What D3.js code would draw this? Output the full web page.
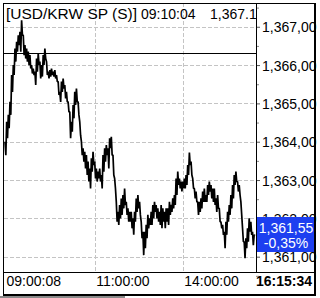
<!DOCTYPE html>
<html>
<head>
<meta charset="utf-8">
<script src="https://cdn.jsdelivr.net/npm/d3@7"></script>
<style>
  body { margin: 0; background: #fff; }
  text { font-family: "Liberation Sans", Arial, sans-serif; }
</style>
</head>
<body>
<svg width="320" height="298"></svg>
<script>
// USD/KRW spot, intraday ticks (top/bottom of each swing)
const prices = [
  1364.00, 1363.65, 1364.52, 1364.09, 1364.70, 1364.35, 1365.04, 1364.70, 1365.74, 1365.30,
  1366.00, 1365.74, 1366.43, 1366.09, 1366.61, 1366.35, 1366.78, 1366.52, 1366.87, 1366.35,
  1367.17, 1366.78, 1366.78, 1366.26, 1366.52, 1366.17, 1366.43, 1366.09, 1366.35, 1366.00,
  1366.26, 1365.91, 1366.00, 1365.78, 1365.91, 1365.74, 1365.83, 1365.48, 1366.17, 1365.83,
  1366.30, 1366.00, 1366.09, 1365.65, 1366.00, 1365.70, 1366.26, 1366.00, 1366.43, 1366.17,
  1366.09, 1365.74, 1365.83, 1365.65, 1365.87, 1365.70, 1365.91, 1365.74, 1365.83, 1365.70,
  1365.87, 1365.65, 1365.74, 1365.57, 1365.57, 1365.22, 1365.30, 1365.04, 1365.57, 1365.30,
  1365.65, 1365.39, 1365.48, 1365.13, 1365.30, 1365.04, 1365.04, 1364.78, 1364.78, 1364.09,
  1364.52, 1364.26, 1364.96, 1364.61, 1365.30, 1364.96, 1365.39, 1365.04, 1365.04, 1364.70,
  1364.52, 1364.17, 1364.00, 1363.65, 1363.83, 1363.48,
  1363.74, 1363.30, 1363.65, 1363.13, 1363.48, 1362.96, 1363.30, 1362.78, 1363.57, 1363.22,
  1363.74, 1363.39, 1363.48, 1363.04, 1363.30, 1362.96, 1363.22, 1363.04, 1363.30, 1362.96,
  1363.13, 1362.78, 1363.65, 1363.22, 1363.83, 1363.48, 1363.91, 1363.65, 1363.83, 1363.30,
  1364.09, 1363.83, 1364.13, 1363.65, 1363.65, 1363.13, 1363.04, 1362.78, 1362.43, 1361.91,
  1362.17, 1361.83, 1362.35, 1362.00, 1362.52, 1362.09, 1362.61, 1362.26, 1362.78, 1362.35,
  1362.43, 1362.09, 1362.26, 1361.91, 1362.17, 1361.91, 1362.17, 1361.74, 1362.00, 1361.57,
  1362.17, 1361.91, 1362.52, 1362.17, 1362.61, 1362.26, 1362.43, 1362.09, 1361.91, 1361.48,
  1361.65, 1361.04, 1361.65, 1361.22, 1361.83, 1361.48, 1362.09, 1361.74, 1362.00, 1361.83,
  1362.17, 1361.83, 1362.35, 1362.00, 1362.43, 1362.17, 1362.35, 1362.00, 1362.26, 1361.91,
  1362.17, 1361.83, 1362.35, 1361.74, 1362.26, 1361.91, 1362.17, 1361.74, 1362.26, 1361.91,
  1362.26, 1361.83,
  1362.43, 1362.09, 1362.35, 1362.17, 1362.52, 1362.26, 1362.61, 1362.35, 1363.04, 1362.61,
  1363.22, 1362.87, 1363.04, 1362.78, 1362.96, 1362.70, 1362.96, 1362.78, 1363.04, 1362.78,
  1363.13, 1362.87, 1363.39, 1363.13, 1363.72, 1363.39, 1363.48, 1363.13, 1363.04, 1362.78,
  1362.78, 1362.52, 1362.70, 1362.43, 1362.43, 1362.09, 1362.43, 1362.17, 1362.52, 1362.26,
  1362.70, 1362.43, 1362.78, 1362.43, 1362.61, 1362.43, 1362.87, 1362.61, 1362.96, 1362.70,
  1362.87, 1362.52, 1362.78, 1362.43, 1362.78, 1362.35, 1362.52, 1362.17, 1362.61, 1362.26,
  1362.26, 1361.91, 1361.91, 1361.74, 1361.83, 1361.57, 1361.65, 1361.22, 1361.91, 1361.57,
  1362.17, 1361.91, 1362.35, 1362.09, 1362.61, 1362.26, 1362.87, 1362.52, 1363.13, 1362.87,
  1363.22, 1362.96, 1362.96, 1362.70, 1362.87, 1362.61, 1362.43, 1362.09, 1361.74, 1361.39,
  1361.39, 1360.96, 1361.48, 1361.22, 1361.74, 1361.39, 1362.00, 1361.65, 1361.91, 1361.57,
  1361.65, 1361.30, 1361.57, 1361.55
];
const prevClose = 1366.31;
const yTicks = [1361, 1362, 1363, 1364, 1365, 1366, 1367];
const yTickLabels = ["1,361,00", "1,362,00", "1,363,00", "1,364,00", "1,365,00", "1,366,00", "1,367,00"];
const yMinorTicks = [1360.5, 1361.5, 1362.5, 1363.5, 1364.5, 1365.5, 1366.5, 1367.5];
const xTickIdx = [0, 108, 214];
const xTickLabels = ["09:00:08", "11:00:00", "14:00:00"];
const lastTime = "16:15:34";
const lastPrice = "1,361,55";
const lastChange = "-0,35%";
const headerParts = ["[USD/KRW SP (S)]", "09:10:04", "1,367.10"];

const svg = d3.select("svg"),
  plot = { left: 4, top: 3, right: 256, bottom: 272 },
  outer = { right: 315, bottom: 295 },
  x = d3.scaleLinear().domain([0, prices.length - 1]).range([5, 255]),
  y = d3.scaleLinear().domain([1360.6, 1367.62]).range([plot.bottom, plot.top]);

svg.append("defs").append("clipPath").attr("id", "plotclip")
  .append("rect")
  .attr("x", plot.left).attr("y", plot.top)
  .attr("width", plot.right - plot.left).attr("height", plot.bottom - plot.top);
svg.append("defs").append("clipPath").attr("id", "outerclip")
  .append("rect")
  .attr("x", 0).attr("y", 0).attr("width", outer.right).attr("height", 298);

// grid
const grid = svg.append("g").attr("stroke", "#c4c4c4").attr("stroke-dasharray", "4,2")
  .attr("shape-rendering", "crispEdges");
grid.selectAll(".hg").data(yTicks).enter().append("line")
  .attr("x1", plot.left).attr("x2", plot.right)
  .attr("y1", (d) => Math.round(y(d)) + 0.5).attr("y2", (d) => Math.round(y(d)) + 0.5);
grid.selectAll(".vg").data(xTickIdx.slice(1)).enter().append("line")
  .attr("x1", (d) => Math.round(x(d)) + 0.5).attr("x2", (d) => Math.round(x(d)) + 0.5)
  .attr("y1", plot.top).attr("y2", plot.bottom);

// header
const hdr = svg.append("g").attr("clip-path", "url(#plotclip)")
  .attr("font-size", 14).attr("fill", "#000");
hdr.append("text").attr("x", 6).attr("y", 19).attr("textLength", 131)
  .attr("lengthAdjust", "spacingAndGlyphs").text(headerParts[0]);
hdr.append("text").attr("x", 141).attr("y", 19).text(headerParts[1]);
hdr.append("text").attr("x", 210).attr("y", 19).text(headerParts[2]);

// previous close
svg.append("line")
  .attr("x1", plot.left).attr("x2", plot.right)
  .attr("y1", Math.round(y(prevClose)) + 0.5).attr("y2", Math.round(y(prevClose)) + 0.5)
  .attr("stroke", "#000").attr("shape-rendering", "crispEdges");

// price line
svg.append("path")
  .datum(prices)
  .attr("clip-path", "url(#plotclip)")
  .attr("fill", "none").attr("stroke", "#000").attr("stroke-width", 1.7)
  .attr("stroke-linejoin", "bevel")
  .attr("d", d3.line().x((d, i) => x(i)).y((d) => y(d)));

// y axis
const yAxis = svg.append("g")
  .attr("transform", `translate(${plot.right},0)`)
  .attr("clip-path", "url(#outerclip)")
  .call(d3.axisRight(y).tickValues(yTicks).tickSize(4).tickPadding(2)
    .tickFormat((d, i) => yTickLabels[i]));
yAxis.select(".domain").remove();
yAxis.selectAll("text").attr("font-size", 14).attr("font-family", "Liberation Sans, Arial, sans-serif")
  .attr("fill", "#000").attr("dy", "0.36em");
yAxis.selectAll("line").attr("stroke", "#555");
const yMinor = svg.append("g")
  .attr("transform", `translate(${plot.right},0)`)
  .call(d3.axisRight(y).tickValues(yMinorTicks).tickSize(3).tickFormat(""));
yMinor.select(".domain").remove();
yMinor.selectAll("line").attr("stroke", "#888");

// current value box
svg.append("rect")
  .attr("x", plot.right).attr("y", 217).attr("width", outer.right - plot.right).attr("height", 35)
  .attr("fill", "#1d3ff0");
svg.append("text").attr("x", 286).attr("y", 233).attr("text-anchor", "middle")
  .attr("font-size", 14).attr("fill", "#fff").text(lastPrice);
svg.append("text").attr("x", 286).attr("y", 248).attr("text-anchor", "middle")
  .attr("font-size", 14).attr("fill", "#fff").text(lastChange);

// x axis
const xAxis = svg.append("g")
  .attr("transform", `translate(0,${plot.bottom})`)
  .call(d3.axisBottom(x).tickValues(xTickIdx).tickSize(0).tickPadding(0)
    .tickFormat((d, i) => xTickLabels[i]));
xAxis.select(".domain").remove();
xAxis.selectAll("text").attr("font-size", 14).attr("font-family", "Liberation Sans, Arial, sans-serif")
  .attr("fill", "#000").attr("text-anchor", "start").attr("dx", 1).attr("dy", 0).attr("y", 14);
svg.append("text").attr("x", 256).attr("y", 286).attr("font-size", 14).attr("font-weight", "bold")
  .text(lastTime);

// frame
const frame = svg.append("g").attr("stroke", "#000").attr("fill", "none")
  .attr("shape-rendering", "crispEdges");
frame.append("rect").attr("x", 3.5).attr("y", 3.5)
  .attr("width", outer.right - 3.5).attr("height", outer.bottom - 3.5).attr("stroke-width", 1.5);
frame.append("line").attr("x1", 3).attr("x2", outer.right)
  .attr("y1", plot.bottom + 0.5).attr("y2", plot.bottom + 0.5);
frame.append("line").attr("x1", plot.right + 0.5).attr("x2", plot.right + 0.5)
  .attr("y1", 3).attr("y2", plot.bottom);

// bottom tab strip
svg.append("rect").attr("x", 0).attr("y", 296).attr("width", 125).attr("height", 2).attr("fill", "#8a8a8a");
</script>
</body>
</html>
